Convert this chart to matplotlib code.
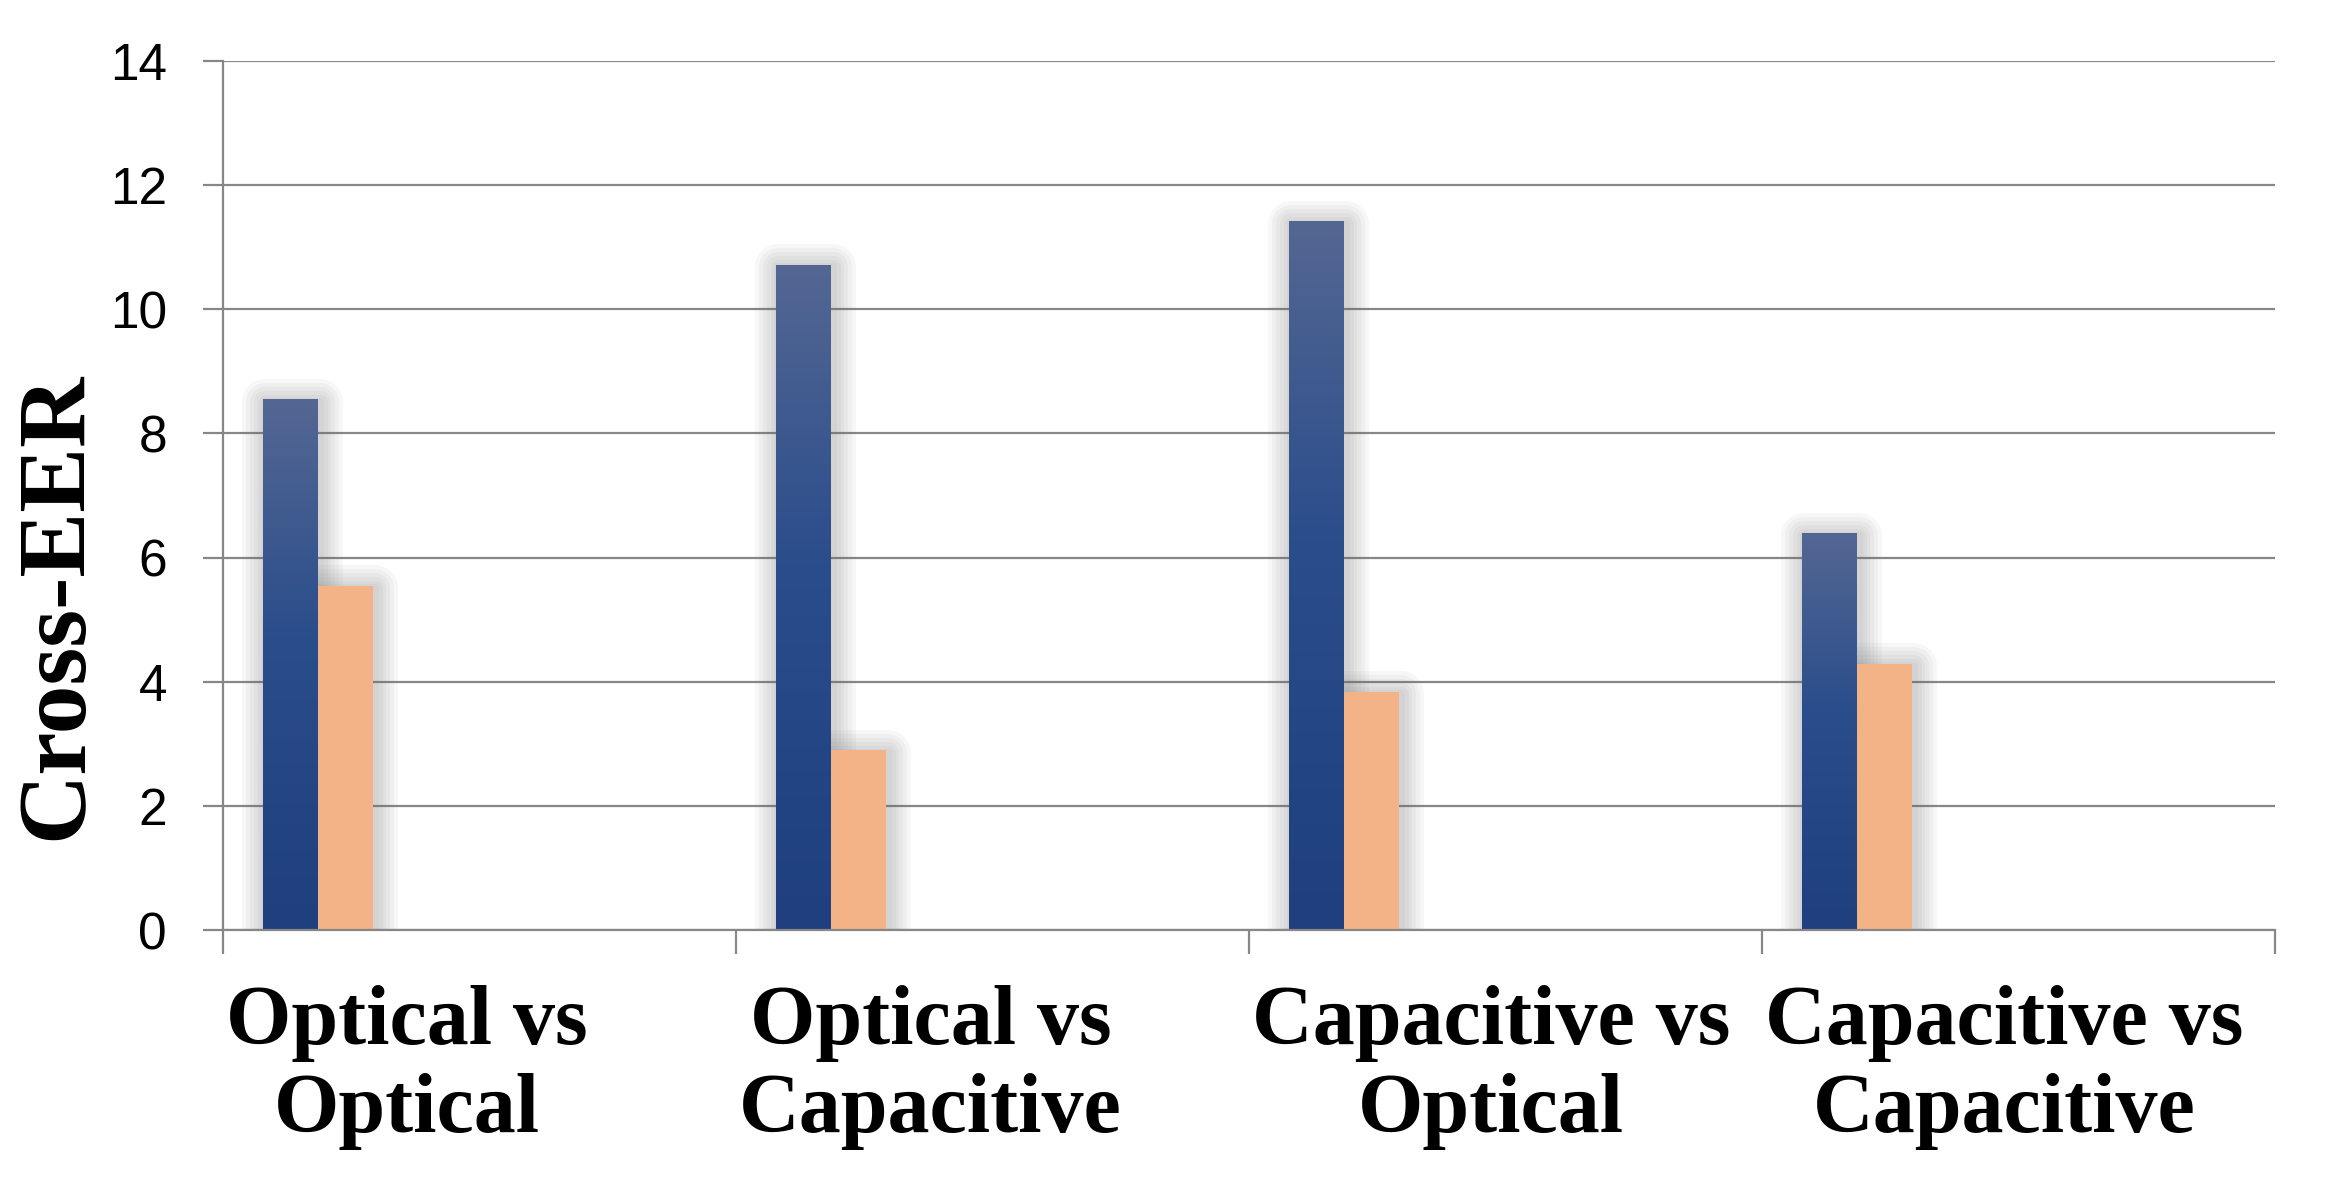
import numpy as np
import matplotlib
matplotlib.use("Agg")
import matplotlib.pyplot as plt
import matplotlib.patheffects as pe
from matplotlib.colors import LinearSegmentedColormap
import matplotlib.transforms as mtransforms

# ---- data ----
categories = ["Optical vs\nOptical", "Optical vs\nCapacitive",
              "Capacitive vs\nOptical", "Capacitive vs\nCapacitive"]
series_a = [8.55, 10.72, 11.42, 6.40]
series_b = [5.55, 2.90, 3.84, 4.29]
y_ticks = [0, 2, 4, 6, 8, 10, 12, 14]

W, H, DPI = 2333, 1183, 100
fig = plt.figure(figsize=(W / DPI, H / DPI), dpi=DPI)
ax = fig.add_axes([223 / W, 1 - 930 / H, (2275 - 223) / W, (930 - 61) / H])

grey = "#878787"
px = 72.0 / DPI  # points per pixel

n = len(categories)
idx = np.arange(n)
bw = 0.107
off_a = 0.078
xa = idx + off_a
xb = idx + off_a + bw

# soft shadows
shadow_fx = [pe.Stroke(linewidth=w * px, foreground="#6e6e6e", alpha=0.055,
                       joinstyle="round", offset=(1.5, -2.0))
             for w in (46, 38, 30, 22, 15, 8)]
for xs, vals in ((xa, series_a), (xb, series_b)):
    sh = ax.bar(xs, vals, width=bw, align="edge", color="#9a9a9a",
                alpha=0.0, zorder=1.6)
    for p in sh:
        p.set_path_effects(shadow_fx)

bars_a = ax.bar(xa, series_a, width=bw, align="edge", color="#2A4D8B",
                zorder=2, linewidth=0)
bars_b = ax.bar(xb, series_b, width=bw, align="edge", color="#F3B386",
                zorder=2, linewidth=0)

# gradient on blue bars
cmap = LinearSegmentedColormap.from_list(
    "g", [(0.0, "#1F3F7E"), (0.55, "#2A4D8B"), (1.0, "#546793")])
grad = np.linspace(0, 1, 256).reshape(-1, 1)
for p in bars_a:
    x0, w, h = p.get_x(), p.get_width(), p.get_height()
    im = ax.imshow(grad, cmap=cmap, origin="lower", aspect="auto",
                   extent=[x0, x0 + w, 0, h], zorder=2.1,
                   interpolation="bilinear")
    im.set_clip_path(p)

ax.set_xlim(0, n)
ax.set_ylim(0, 14)
ax.set_aspect("auto")

# grid & spines
ax.set_axisbelow(True)
ax.yaxis.grid(True, color=grey, linewidth=2.2 * px)
for s in ("top", "right"):
    ax.spines[s].set_visible(False)
for s in ("left", "bottom"):
    ax.spines[s].set_color(grey)
    ax.spines[s].set_linewidth(2.2 * px)

ax.set_yticks(y_ticks)
ax.set_yticklabels([str(t) for t in y_ticks], fontfamily="Liberation Sans",
                   fontsize=37)
ax.tick_params(axis="y", length=20 * px, width=2.2 * px, color=grey,
               pad=26, direction="out")
ax.set_xticks(np.arange(n + 1))
ax.set_xticklabels([])
ax.tick_params(axis="x", length=24 * px, width=2.2 * px, color=grey,
               direction="out")

# category labels (left aligned blocks, centered lines)
trans = mtransforms.blended_transform_factory(ax.transData, fig.transFigure)
for i, lab in enumerate(categories):
    ax.text(i + 0.006, 1 - 985 / H, lab, transform=trans, ha="left", va="top",
            multialignment="center", fontfamily="Liberation Serif",
            fontweight="bold", fontsize=60.5, linespacing=1.19, clip_on=False)

fig.text(58 / W, 1 - 606 / H, "Cross-EER", rotation=90, ha="center",
         va="center", fontfamily="Liberation Serif", fontweight="bold",
         fontsize=70)

fig.savefig("out.png", dpi=DPI, facecolor="white")
